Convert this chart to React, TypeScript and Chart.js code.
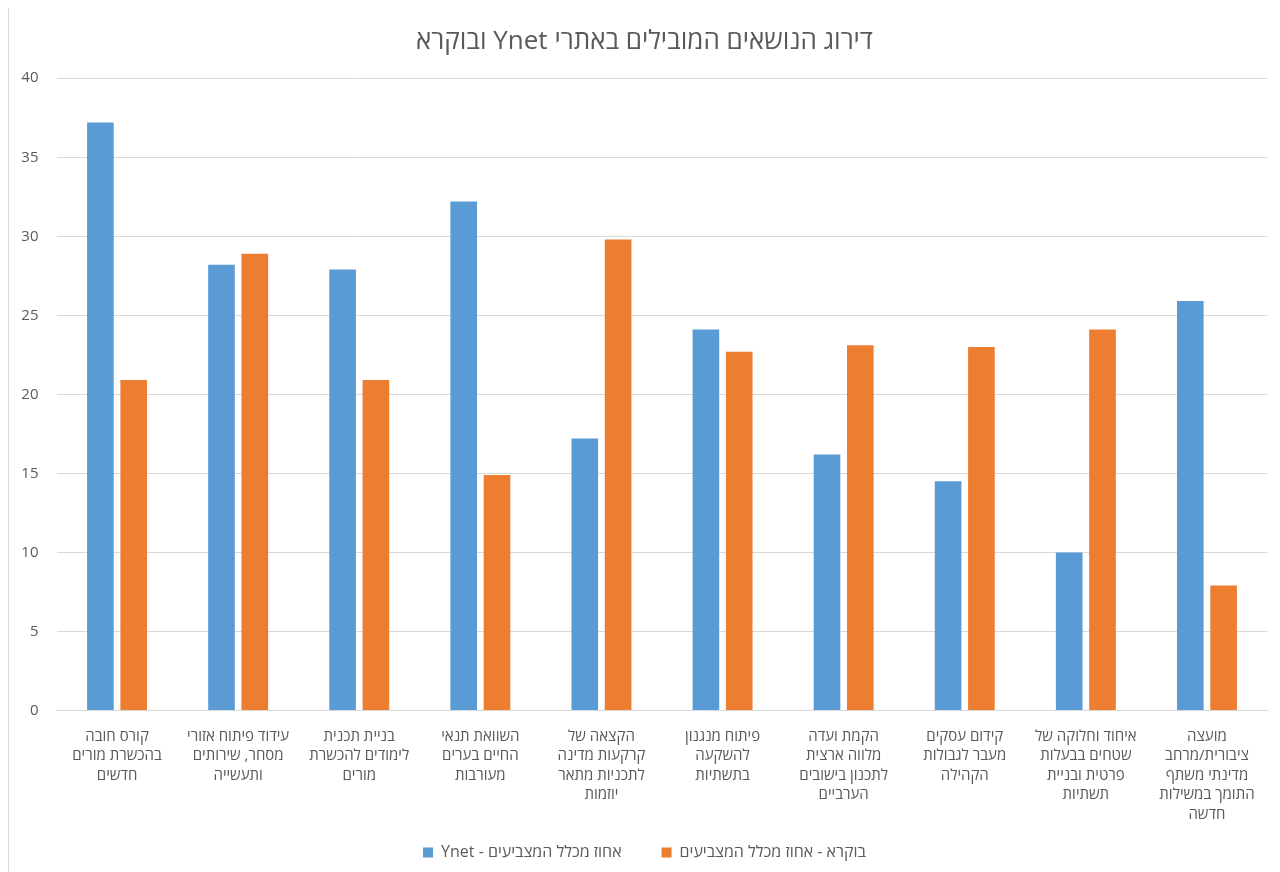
import React, { useEffect, useRef } from "react";
import { Chart, registerables } from "chart.js";

Chart.register(...registerables);

const TITLE = "\u202Bדירוג הנושאים המובילים באתרי Ynet ובוקרא\u202C";

const categories: string[][] = [
  ["קורס חובה", "בהכשרת מורים", "חדשים"],
  ["עידוד פיתוח אזורי", "מסחר, שירותים", "ותעשייה"],
  ["בניית תכנית", "לימודים להכשרת", "מורים"],
  ["השוואת תנאי", "החיים בערים", "מעורבות"],
  ["הקצאה של", "קרקעות מדינה", "לתכניות מתאר", "יוזמות"],
  ["פיתוח מנגנון", "להשקעה", "בתשתיות"],
  ["הקמת ועדה", "מלווה ארצית", "לתכנון בישובים", "הערביים"],
  ["קידום עסקים", "מעבר לגבולות", "הקהילה"],
  ["איחוד וחלוקה של", "שטחים בבעלות", "פרטית ובניית", "תשתיות"],
  ["מועצה", "ציבורית/מרחב", "מדינתי משתף", "התומך במשילות", "חדשה"],
];

const seriesNames = ["Ynet - אחוז מכלל המצביעים", "בוקרא - אחוז מכלל המצביעים"];
const ynetValues = [37.2, 28.2, 27.9, 32.2, 17.2, 24.1, 16.2, 14.5, 10.0, 25.9];
const bokraValues = [20.9, 28.9, 20.9, 14.9, 29.8, 22.7, 23.1, 23.0, 24.1, 7.9];
const yTicks = [0, 5, 10, 15, 20, 25, 30, 35, 40];

const FONT = "'Open Sans', 'DejaVu Sans', sans-serif";
const TEXT = "#595959";

const legendShift = {
  id: "legendShift",
  afterLayout(chart: any) {
    const lg = chart.legend;
    if (lg) {
      lg.top -= 27.5;
      lg.bottom -= 27.5;
    }
  },
};

export default function App() {
  const ref = useRef<HTMLCanvasElement | null>(null);
  useEffect(() => {
    if (!ref.current) return;
    const chart = new Chart(ref.current, {
      type: "bar",
      data: {
        labels: categories,
        datasets: [
          {
            label: seriesNames[0],
            data: ynetValues,
            backgroundColor: "#5B9BD5",
            categoryPercentage: 0.55,
            barPercentage: 0.8,
          },
          {
            label: seriesNames[1],
            data: bokraValues,
            backgroundColor: "#ED7D31",
            categoryPercentage: 0.55,
            barPercentage: 0.8,
          },
        ],
      },
      plugins: [legendShift],
      options: {
        animation: false,
        responsive: false,
        maintainAspectRatio: false,
        layout: { padding: { left: 12.5, right: 29.5, top: 4, bottom: 4 } },
        plugins: {
          title: {
            display: true,
            text: TITLE,
            color: TEXT,
            font: { family: FONT, size: 26, weight: "normal" },
            padding: { top: 15, bottom: 21 },
          },
          legend: {
            position: "bottom",
            labels: {
              color: TEXT,
              font: { family: FONT, size: 16 },
              boxWidth: 10,
              boxHeight: 10,
              padding: 40,
            },
          },
          tooltip: { enabled: false },
        },
        scales: {
          x: {
            grid: { display: false },
            border: { color: "#D9D9D9" },
            afterFit: (scale: any) => {
              scale.paddingLeft = 0;
              scale.paddingRight = 0;
            },
            ticks: {
              color: TEXT,
              font: { family: FONT, size: 15, lineHeight: 1.3 },
              maxRotation: 0,
              autoSkip: false,
              padding: 8,
            },
          },
          y: {
            min: 0,
            max: 40,
            afterBuildTicks: (axis: any) => {
              axis.ticks = yTicks.map((v) => ({ value: v }));
            },
            afterFit: (scale: any) => {
              scale.width = 35;
            },
            grid: { color: "#D9D9D9", drawTicks: false },
            border: { display: false },
            ticks: {
              color: TEXT,
              font: { family: FONT, size: 15 },
              padding: 18,
            },
          },
        },
      },
    });
    return () => chart.destroy();
  }, []);
  return (
    <div
      style={{
        marginTop: -2,
        width: 1290,
        height: 905,
        border: "1px solid #D9D9D9",
        boxSizing: "border-box",
        background: "#fff",
      }}
    >
      <canvas ref={ref} width={1288} height={895} style={{ display: "block" }} />
    </div>
  );
}
